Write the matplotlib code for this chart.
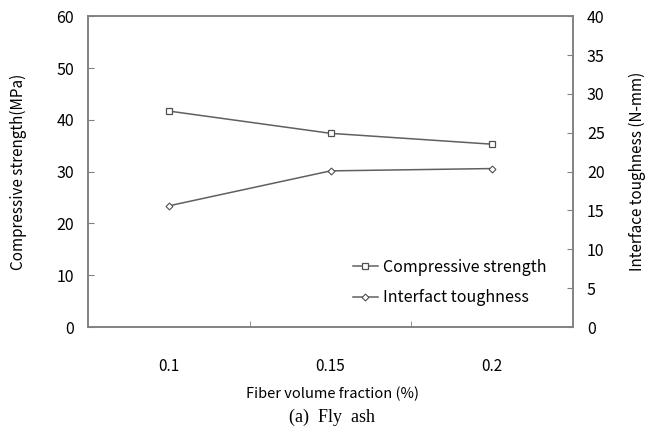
import matplotlib
matplotlib.use("Agg")
import matplotlib.pyplot as plt

# fiber volume fraction categories and measured values
fractions = ["0.1", "0.15", "0.2"]
compressive = [41.7, 37.4, 35.3]   # MPa
toughness = [15.6, 20.1, 20.4]     # N-mm

plt.rcParams["font.family"] = ["Noto Sans CJK KR", "DejaVu Sans"]

fig = plt.figure(figsize=(6.55, 4.37), dpi=100)
ax = fig.add_axes([0.1344, 0.2517, 0.7405, 0.711])
ax2 = ax.twinx()

pos = list(range(len(fractions)))
line_col = "#606060"
l1, = ax.plot(pos, compressive, color=line_col, lw=1.1, marker="s", ms=5,
              mfc="white", mec="#505050", mew=0.9, label="Compressive strength")
l2, = ax2.plot(pos, toughness, color=line_col, lw=1.1, marker="D", ms=3.5,
               mfc="white", mec="#505050", mew=0.8, label="Interfact toughness")

ax.set_xlim(-0.5, 2.5)
ax.set_ylim(0, 60)
ax2.set_ylim(0, 40)
ax.set_yticks(range(0, 61, 10))
ax2.set_yticks(range(0, 41, 5))

ax.set_xticks(pos)
ax.set_xticklabels(fractions)
ax.set_xticks([0.5, 1.5], minor=True)
ax.tick_params(axis="x", which="major", length=0, pad=22, labelsize=11)
ax.tick_params(axis="x", which="minor", direction="in", length=4, color="#808080")

for a in (ax, ax2):
    for s in a.spines.values():
        s.set_color("#808080")
        s.set_linewidth(1.1)
ax.tick_params(axis="y", direction="in", length=4, color="#808080",
               labelsize=11.5, pad=10)
ax2.tick_params(axis="y", direction="in", length=4, color="#808080",
                labelsize=11.5, pad=10)

ax.set_ylabel("Compressive strength(MPa)", fontsize=11, labelpad=21)
ax2.set_ylabel("Interface toughness (N-mm)", fontsize=11, labelpad=17)

fig.text(0.507, 0.099, "Fiber volume fraction (%)", ha="center", va="center", fontsize=10.5)
fig.text(0.507, 0.046, "(a)  Fly  ash", ha="center", va="center", fontsize=13,
         family="Liberation Serif")

ax.legend([l1, l2], [l1.get_label(), l2.get_label()], loc="lower right",
          bbox_to_anchor=(0.975, 0.02), frameon=False, fontsize=11.5,
          handlelength=1.6, handletextpad=0.3, labelspacing=0.85)

fig.savefig("out.png", dpi=100)
